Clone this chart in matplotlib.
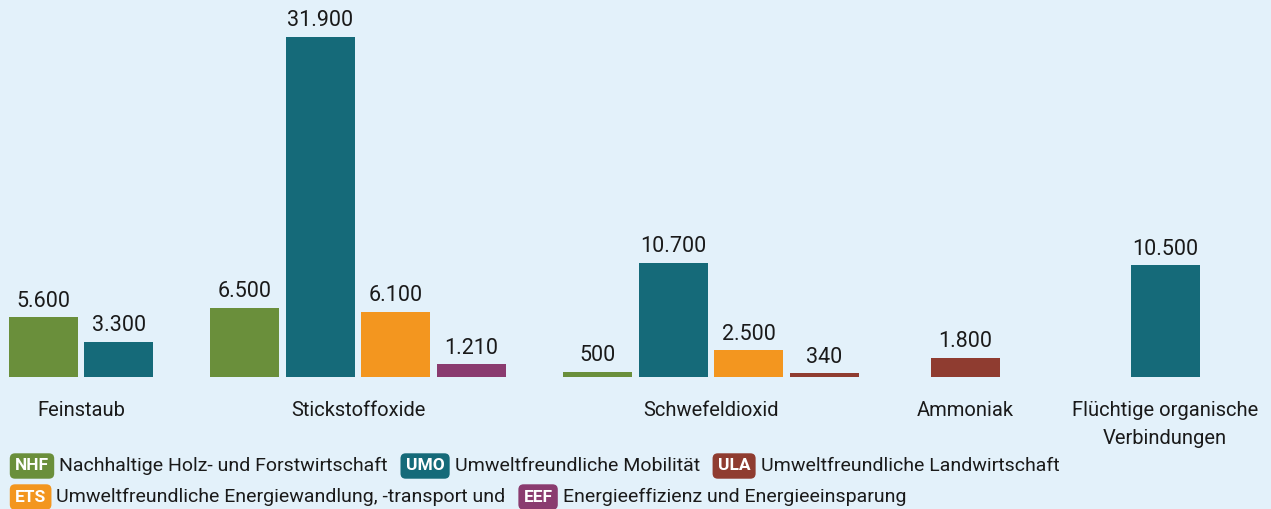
import matplotlib

matplotlib.use("Agg")
from matplotlib import pyplot as plt

plt.rcParams["font.family"] = ["Roboto", "DejaVu Sans"]

# Data (Tonnen vermiedene Emissionen)
categories = [
    "Feinstaub",
    "Stickstoffoxide",
    "Schwefeldioxid",
    "Ammoniak",
    "Flüchtige organische\nVerbindungen",
]
series_keys = ["NHF", "UMO", "ETS", "ULA", "EEF"]
series_names = [
    "Nachhaltige Holz- und Forstwirtschaft",
    "Umweltfreundliche Mobilität",
    "Umweltfreundliche Energiewandlung, -transport und",
    "Umweltfreundliche Landwirtschaft",
    "Energieeffizienz und Energieeinsparung",
]
nhf = [5600, 6500, 500, 0, 0]
umo = [3300, 31900, 10700, 0, 10500]
ets = [0, 6100, 2500, 0, 0]
ula = [0, 0, 340, 1800, 0]
eef = [0, 1210, 0, 0, 0]

# order of bars inside each group
bar_order = {
    "Feinstaub": ["NHF", "UMO"],
    "Stickstoffoxide": ["NHF", "UMO", "ETS", "EEF"],
    "Schwefeldioxid": ["NHF", "UMO", "ETS", "ULA"],
}

colors = {
    "NHF": "#6a8f3b",
    "UMO": "#156a79",
    "ETS": "#f3961f",
    "ULA": "#8f3c30",
    "EEF": "#8a3b6f",
}
bg = "#e3f1fa"

values = {"NHF": nhf, "UMO": umo, "ETS": ets, "ULA": ula, "EEF": eef}

# layout (pixel units of the figure)
W, H = 1271, 509
group_centers = [81, 358, 711, 965, 1165]
slot = 75.5
bar_w = 69
baseline_px = 377

fig = plt.figure(figsize=(W / 100, H / 100), dpi=100, facecolor=bg)
ax = fig.add_axes([0, (H - baseline_px) / H, 1, baseline_px / H])
ax.set_facecolor(bg)
ax.set_xlim(0, W)
ax.set_ylim(0, 31900 * baseline_px / (baseline_px - 37))
ax.set_axis_off()

for i, cat in enumerate(categories):
    keys = [k for k in series_keys if values[k][i] > 0]
    keys = bar_order.get(cat, keys)
    n = len(keys)
    for j, k in enumerate(keys):
        x = group_centers[i] + (j - (n - 1) / 2) * slot
        v = values[k][i]
        ax.bar(x, v, width=bar_w, color=colors[k], linewidth=0)
        label = f"{v:,}".replace(",", ".")
        ax.annotate(label, (x, v), xytext=(0, 4), textcoords="offset points",
                    ha="center", va="bottom", fontsize=15.5, color="#1a1a1a")
    fig.text(group_centers[i] / W, 1 - 401 / H, cat, ha="center", va="top",
             fontsize=14.5, color="#1a1a1a", linespacing=1.6)

# legend with badges
rows = [[0, 1, 3], [2, 4]]
row_y = [466, 497]
for r, idx in enumerate(rows):
    x = 15
    for i in idx:
        k = series_keys[i]
        t = fig.text(x / W, 1 - row_y[r] / H, k, ha="left", va="center",
                     fontsize=12.5, fontweight="bold", color="white",
                     bbox=dict(boxstyle="round,pad=0.3,rounding_size=0.3",
                               fc=colors[k], ec="none"))
        fig.canvas.draw()
        ext = t.get_bbox_patch().get_window_extent()
        x = ext.x1 + 5
        t2 = fig.text(x / W, 1 - row_y[r] / H, series_names[i], ha="left",
                      va="center", fontsize=14, color="#1a1a1a")
        fig.canvas.draw()
        ext2 = t2.get_window_extent()
        x = ext2.x1 + 18

fig.savefig("out.png", dpi=100, facecolor=bg)
